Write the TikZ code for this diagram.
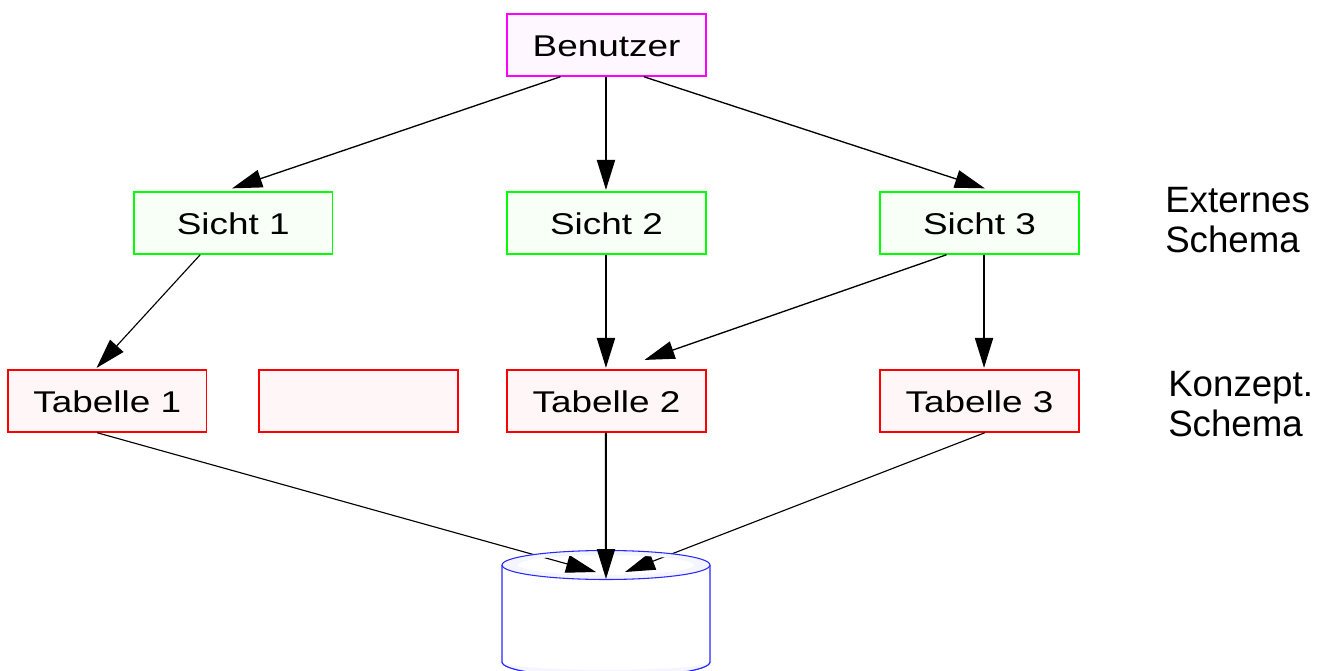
\documentclass[tikz,border=0pt]{standalone}
\usepackage{fontspec}
\setmainfont{Liberation Sans}
\newfontfamily\boxfont[FakeStretch=1.23]{Liberation Sans}
\usetikzlibrary{arrows.meta}
\definecolor{userline}{RGB}{255,0,255}
\definecolor{userfill}{RGB}{255,247,255}
\definecolor{viewline}{RGB}{0,255,0}
\definecolor{viewfill}{RGB}{247,255,247}
\definecolor{tableline}{RGB}{255,0,0}
\definecolor{tablefill}{RGB}{255,247,247}
\definecolor{dbline}{RGB}{40,40,255}
\definecolor{dbfill}{RGB}{245,245,255}
\tikzset{
	box/.style={draw,line width=1.1pt,minimum width=149pt,minimum height=46.5pt,inner sep=0pt,text height=16.5pt,text depth=0pt,font=\boxfont\fontsize{22.5}{24}\selectfont},
	userbox/.style={box,draw=userline,fill=userfill},
	viewbox/.style={box,draw=viewline,fill=viewfill},
	tablebox/.style={box,draw=tableline,fill=tablefill},
	thick conn/.style={line width=1.5pt,-{Triangle[length=22.5pt,width=13.5pt]}},
	conn/.style={line width=1pt,-{Triangle[length=22.5pt,width=13.5pt]}},
	thin conn/.style={line width=0.85pt,-{Triangle[length=22.5pt,width=13.5pt]}},
	side/.style={align=left,anchor=west,inner sep=0pt,font=\fontsize{27.5}{30}\selectfont}
}
\begin{document}
\begin{tikzpicture}[x=0.75pt,y=-0.75pt]
	\useasboundingbox (0,0) rectangle (1329,671);
	\clip (0,0) rectangle (1329,671);
	\node[userbox] (benutzer) at (606.5,45) {Benutzer};
	\node[viewbox] (sicht1) at (233.2,223) {Sicht 1};
	\node[viewbox] (sicht2) at (606.5,223) {Sicht 2};
	\node[viewbox] (sicht3) at (979.5,223) {Sicht 3};
	\node[tablebox] (tabelle1) at (107.2,401) {Tabelle 1};
	\node[tablebox] (leer) at (358.5,401) {};
	\node[tablebox] (tabelle2) at (606.5,401) {Tabelle 2};
	\node[tablebox] (tabelle3) at (979.5,401) {Tabelle 3};
	\node[side] (extern) at (1165,220) {Externes\\Schema};
	\node[side] (konzept) at (1168,404) {Konzept.\\Schema};
	% database
	\path[draw=dbline,line width=0.8pt,fill=white] (502,565) -- (502,662) arc[start angle=180,end angle=0,x radius=104,y radius=15] -- (710,565);
	\fill[dbfill] (502,662) arc[start angle=180,end angle=0,x radius=104,y radius=15] arc[start angle=0,end angle=180,x radius=104,y radius=8];
	\draw[draw=dbline,line width=0.8pt] (502,662) arc[start angle=180,end angle=0,x radius=104,y radius=15];
	\fill[white] (606,565) ellipse[x radius=104,y radius=14.5];
	\coordinate (db) at (606,579);
	\coordinate (dbl) at (596,572);
	\coordinate (dbr) at (625,572);
	% arrows
	\draw[conn] ([xshift=-34.5pt]benutzer.south) -- ([xshift=-0.8pt,yshift=2.2pt]sicht1.north);
	\draw[thick conn] ([xshift=-0.4pt]benutzer.south) -- ([xshift=-0.4pt,yshift=1pt]sicht2.north);
	\draw[conn] ([xshift=28pt]benutzer.south) -- ([xshift=4pt,yshift=2.2pt]sicht3.north);
	\draw[thin conn] ([xshift=-24.75pt]sicht1.south) -- ([xshift=-8pt,yshift=1pt]tabelle1.north);
	\draw[thick conn] ([xshift=-0.4pt]sicht2.south) -- ([xshift=-0.4pt,yshift=1pt]tabelle2.north);
	\draw[conn] ([xshift=-24.75pt]sicht3.south) -- ([xshift=28.5pt,yshift=7pt]tabelle2.north);
	\draw[thick conn] ([xshift=3.4pt]sicht3.south) -- ([xshift=3.4pt,yshift=1pt]tabelle3.north);
	\draw[thin conn] ([xshift=-7.5pt]tabelle1.south) -- (dbl);
	\draw[thin conn] ([xshift=4pt]tabelle3.south) -- (dbr);
	% top of database lies over the slanted lines
	\fill[dbfill,even odd rule] (606,565) ellipse[x radius=104,y radius=14.5] (606,565) ellipse[x radius=88,y radius=10];
	\draw[draw=dbline,line width=0.8pt] (606,565) ellipse[x radius=104,y radius=14.5];
	\draw[thick conn] ([xshift=-0.4pt]tabelle2.south) -- (db);
\end{tikzpicture}
\end{document}
